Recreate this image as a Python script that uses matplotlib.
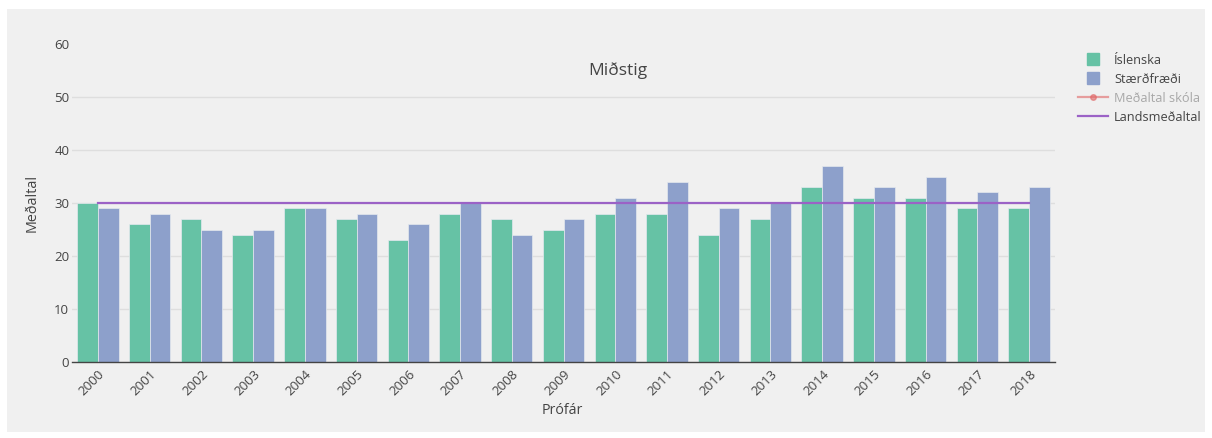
import matplotlib
matplotlib.use("Agg")
import matplotlib.pyplot as plt
from matplotlib.patches import Rectangle
from matplotlib.lines import Line2D
import numpy as np

plt.rcParams['font.family'] = ['Open Sans', 'DejaVu Sans']

# gögn
ar = [2000, 2001, 2002, 2003, 2004, 2005, 2006, 2007, 2008, 2009,
      2010, 2011, 2012, 2013, 2014, 2015, 2016, 2017, 2018]
islenska = [30, 26, 27, 24, 29, 27, 23, 28, 27, 25, 28, 28, 24, 27, 33, 31, 31, 29, 29]
staerdfraedi = [29, 28, 25, 25, 29, 28, 26, 30, 24, 27, 31, 34, 29, 30, 37, 33, 35, 32, 33]
landsmedaltal = [30] * len(ar)

W, H = 1212, 438
fig = plt.figure(figsize=(W / 100, H / 100), dpi=100)
fig.patch.set_facecolor('white')
fig.add_artist(Rectangle((7 / W, 6 / H), 1198 / W, 423 / H, transform=fig.transFigure,
                         facecolor='#f0f0f0', edgecolor='none', zorder=0))

ax = fig.add_axes([72 / W, (H - 362) / H, (1055 - 72) / W, (362 - 44) / H])
ax.set_facecolor('#f0f0f0')

x = np.arange(len(ar))
bw = 0.4
ax.bar(x - bw / 2, islenska, bw, color='#66c2a5', edgecolor='#e4e9ee', linewidth=0.5, zorder=2)
ax.bar(x + bw / 2, staerdfraedi, bw, color='#8da0cb', edgecolor='#e4e9ee', linewidth=0.5, zorder=2)
ax.plot(x, landsmedaltal, color='#9b62c6', linewidth=1.6, zorder=3)

ax.set_xlim(-0.5, len(ar) - 0.5)
ax.set_ylim(0, 60)
ax.set_yticks([0, 10, 20, 30, 40, 50, 60])
ax.set_xticks(x)
ax.set_xticklabels([str(a) for a in ar], rotation=45, ha='right', rotation_mode='anchor')
ax.tick_params(axis='both', length=0, labelsize=9.5, labelcolor='#444444')
ax.tick_params(axis='y', pad=2)
ax.tick_params(axis='x', pad=4)

ax.yaxis.grid(True, color='#dedede', linewidth=1, zorder=0)
ax.get_ygridlines()[-1].set_visible(False)
for s in ['top', 'right', 'left']:
    ax.spines[s].set_visible(False)
ax.spines['bottom'].set_color('#444444')
ax.spines['bottom'].set_linewidth(1)

fig.text(618 / W, 1 - 71 / H, 'Miðstig', ha='center', va='center', fontsize=12.5, color='#444444')
fig.text(32 / W, 1 - 203 / H, 'Meðaltal', ha='center', va='center', rotation=90,
         fontsize=10.4, color='#444444')
fig.text(562 / W, 1 - 410 / H, 'Prófár', ha='center', va='center', fontsize=10.3, color='#444444')

handles = [
    Line2D([], [], linestyle='none', marker='s', markersize=9, color='#66c2a5'),
    Line2D([], [], linestyle='none', marker='s', markersize=9, color='#8da0cb'),
    Line2D([], [], color='#e06666', alpha=0.6, marker='o', markersize=4, linewidth=1.6),
    Line2D([], [], color='#9b62c6', linewidth=1.6),
]
labels = ['Íslenska', 'Stærðfræði', 'Meðaltal skóla', 'Landsmeðaltal']
leg = fig.legend(handles, labels, loc='upper left', bbox_to_anchor=(1078 / W, 1 - 54 / H),
                 frameon=False, fontsize=9.2, handlelength=2.35, handleheight=1.0,
                 labelspacing=0.46, handletextpad=0.47, borderaxespad=0, borderpad=0)
for i, t in enumerate(leg.get_texts()):
    t.set_color('#a8a8a8' if i == 2 else '#444444')

plt.savefig('out.png', dpi=100, facecolor='white')
